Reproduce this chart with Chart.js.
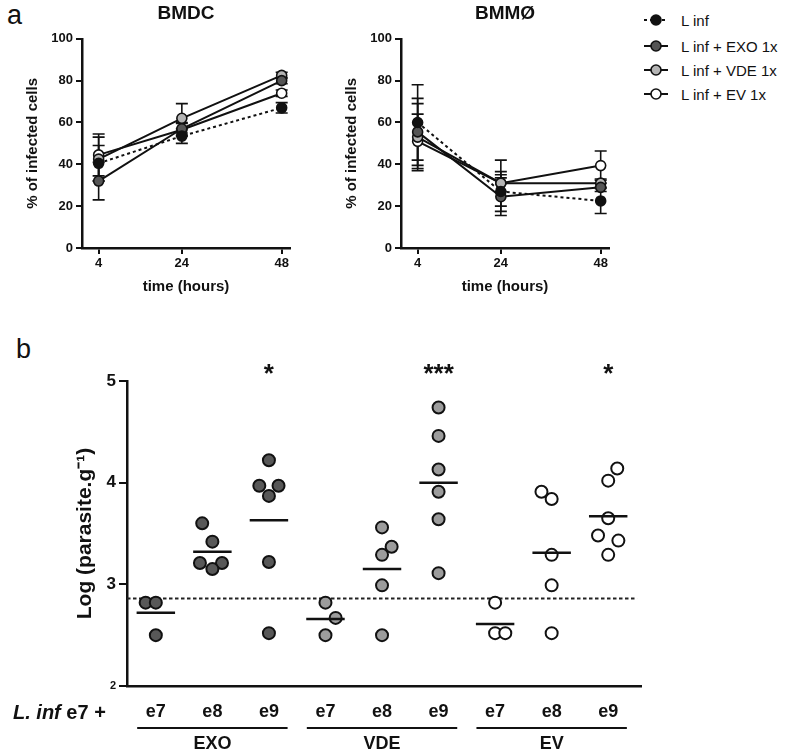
<!DOCTYPE html>
<html><head><meta charset="utf-8">
<script src="https://cdn.jsdelivr.net/npm/chart.js@4/dist/chart.umd.min.js"></script>
<style>
body{margin:0;background:#fff;width:800px;height:751px;position:relative;overflow:hidden;font-family:"Liberation Sans",Arial,Helvetica,sans-serif;color:#111;}
.abs{position:absolute;}
.leg{position:absolute;left:643px;height:20px;display:flex;align-items:center;font-size:15px;}
.leg svg{margin-right:12px;}
</style></head><body>
<div class="abs" style="left:7px;top:0px;font-size:27px;line-height:30px;">a</div>
<div class="abs" style="left:16px;top:334px;font-size:27px;line-height:30px;">b</div>
<canvas id="c1" class="abs" width="300" height="300" style="left:0;top:0"></canvas>
<canvas id="c2" class="abs" width="300" height="300" style="left:319px;top:0"></canvas>
<canvas id="c3" class="abs" width="700" height="421" style="left:0;top:330px"></canvas>
<div id="legend"></div>
<div class="abs" style="left:13px;top:700px;font-size:20px;font-weight:bold;line-height:24px;white-space:nowrap;"><i>L. inf</i> e7 +</div>
<script>
// ---------- data: panel a ----------
const hours = [4, 24, 48];
const seriesNames = ['L inf', 'L inf + EXO 1x', 'L inf + VDE 1x', 'L inf + EV 1x'];
const bmdcLinf = [40.5, 53.5, 67];
const bmdcLinfErr = [8.5, 3.5, 2.5];
const bmdcExo = [32, 57, 80];
const bmdcExoErr = [9, 3, 1.5];
const bmdcVde = [42.5, 62, 82.5];
const bmdcVdeErr = [10.5, 7, 1.5];
const bmdcEv = [44.5, 56.5, 74];
const bmdcEvErr = [10, 3, 1.5];
const bmmLinf = [60, 27, 22.5];
const bmmLinfErr = [18, 9.5, 6];
const bmmExo = [55.5, 24.5, 29];
const bmmExoErr = [16, 9, 2];
const bmmVde = [53, 31, 31];
const bmmVdeErr = [16, 11, 2];
const bmmEv = [51, 31, 39.4];
const bmmEvErr = [13, 4, 7];
const yTicksA = [0, 20, 40, 60, 80, 100];

// ---------- data: panel b ----------
const doseLabels = ['e7', 'e8', 'e9'];
const groupLabels = ['EXO', 'VDE', 'EV'];
const exoValues = [[2.82, 2.82, 2.50], [3.60, 3.42, 3.21, 3.21, 3.15], [4.22, 3.97, 3.97, 3.87, 3.22, 2.52]];
const exoJitter = [[-0.18, 0, 0], [-0.18, 0, -0.22, 0.17, 0], [0, -0.17, 0.17, 0, 0, 0]];
const vdeValues = [[2.82, 2.67, 2.50], [3.56, 3.37, 3.29, 2.99, 2.50], [4.74, 4.46, 4.13, 3.91, 3.64, 3.11]];
const vdeJitter = [[0, 0.18, 0], [0, 0.17, 0, 0, 0], [0, 0, 0, 0, 0, 0]];
const evValues = [[2.82, 2.52, 2.52], [3.91, 3.84, 3.29, 2.99, 2.52], [4.14, 4.02, 3.65, 3.48, 3.43, 3.29]];
const evJitter = [[0, 0, 0.18], [-0.18, 0, 0, 0, 0], [0.16, 0, 0, -0.18, 0.18, 0]];
const groupMeans = [2.72, 3.32, 3.63, 2.66, 3.15, 4.00, 2.61, 3.31, 3.67];
const significance = ['', '', '*', '', '', '***', '', '', '*'];
const detectionLimit = 2.86;
const yTicksB = [2, 3, 4, 5];

const INK = '#111';
Chart.defaults.font.family = "'Liberation Sans', Arial, Helvetica, sans-serif";
Chart.defaults.color = INK;

const errorBars = {
  id: 'errorBars',
  beforeDatasetsDraw(chart) {
    const {ctx, scales: {x, y}} = chart;
    ctx.save();
    ctx.strokeStyle = INK; ctx.lineWidth = 1.6;
    chart.data.datasets.forEach(ds => {
      if (!ds.errors) return;
      ds.data.forEach((p, i) => {
        const px = x.getPixelForValue(p.x);
        const lo = y.getPixelForValue(p.y - ds.errors[i]);
        const hi = y.getPixelForValue(p.y + ds.errors[i]);
        ctx.beginPath();
        ctx.moveTo(px, lo); ctx.lineTo(px, hi);
        ctx.moveTo(px - 6, lo); ctx.lineTo(px + 6, lo);
        ctx.moveTo(px - 6, hi); ctx.lineTo(px + 6, hi);
        ctx.stroke();
      });
    });
    ctx.restore();
  }
};

const fills = ['#111', '#555', '#b4b4b4', '#ffffff'];
const dashes = [[3, 3], [], [], []];

function timeChart(id, title, vals, errs) {
  return new Chart(document.getElementById(id), {
    type: 'line',
    data: {
      datasets: vals.map((v, k) => ({
        label: seriesNames[k],
        data: hours.map((h, i) => ({x: h, y: v[i]})),
        errors: errs[k],
        borderColor: INK, borderWidth: 2, borderDash: dashes[k],
        pointRadius: 5, pointBorderWidth: 1.6,
        pointBackgroundColor: fills[k], pointBorderColor: INK,
        fill: false, tension: 0
      }))
    },
    options: {
      responsive: false, animation: false, events: [],
      layout: {padding: {left: 24, right: 10, top: 0, bottom: 0}},
      plugins: {
        legend: {display: false}, tooltip: {enabled: false},
        title: {display: true, text: title, fullSize: false, color: INK,
          font: {size: 19, weight: 'bold'}, padding: {top: 2, bottom: 14}}
      },
      scales: {
        x: {
          type: 'linear', min: 0, max: 50,
          afterBuildTicks(s) { s.ticks = hours.map(v => ({value: v})); },
          ticks: {autoSkip: false, maxRotation: 0, padding: 2, color: INK,
            font: {size: 13, weight: 'bold'}},
          border: {color: INK, width: 2.5},
          grid: {drawOnChartArea: false, tickLength: 6, color: INK, lineWidth: 2},
          title: {display: true, text: 'time (hours)', color: INK,
            font: {size: 15, weight: 'bold'}, padding: {top: 0, bottom: 4}},
          afterFit(s) { s.height = 52; }
        },
        y: {
          min: 0, max: 100,
          afterBuildTicks(s) { s.ticks = yTicksA.map(v => ({value: v})); },
          ticks: {padding: 3, color: INK, font: {size: 13, weight: 'bold'}},
          border: {color: INK, width: 2.5},
          grid: {drawOnChartArea: false, tickLength: 6, color: INK, lineWidth: 2},
          title: {display: true, text: '% of infected cells', color: INK,
            font: {size: 15, weight: 'bold'}, padding: {top: 0, bottom: 0}},
          afterFit(s) { s.width = 58; }
        }
      }
    },
    plugins: [errorBars]
  });
}

timeChart('c1', 'BMDC', [bmdcLinf, bmdcExo, bmdcVde, bmdcEv], [bmdcLinfErr, bmdcExoErr, bmdcVdeErr, bmdcEvErr]);
timeChart('c2', 'BMMØ', [bmmLinf, bmmExo, bmmVde, bmmEv], [bmmLinfErr, bmmExoErr, bmmVdeErr, bmmEvErr]);

// legend
const legend = document.getElementById('legend');
const legendY = [10, 36, 60, 84];
seriesNames.forEach((name, k) => {
  const row = document.createElement('div');
  row.className = 'leg';
  row.style.top = legendY[k] + 'px';
  const dash = dashes[k].length ? 'stroke-dasharray="3 3"' : '';
  row.innerHTML = `<svg width="26" height="14"><line x1="1" y1="7" x2="25" y2="7" stroke="${INK}" stroke-width="2" ${dash}/><circle cx="13" cy="7" r="5" fill="${fills[k]}" stroke="${INK}" stroke-width="1.6"/></svg><span>${name}</span>`;
  legend.appendChild(row);
});

// ---------- panel b ----------
function pointsFor(values, jitter, groupIndex) {
  const pts = [];
  values.forEach((arr, d) => {
    const cat = groupIndex * 3 + d + 1;
    arr.forEach((v, i) => pts.push({x: cat + jitter[d][i], y: v}));
  });
  return pts;
}

const meanLines = {
  id: 'meanLines',
  afterDatasetsDraw(chart) {
    const {ctx, scales: {x, y}} = chart;
    ctx.save();
    ctx.strokeStyle = INK; ctx.lineWidth = 2.5;
    groupMeans.forEach((m, i) => {
      const c = i + 1;
      const py = y.getPixelForValue(m);
      ctx.beginPath();
      ctx.moveTo(x.getPixelForValue(c - 0.34), py);
      ctx.lineTo(x.getPixelForValue(c + 0.34), py);
      ctx.stroke();
    });
    // significance stars
    ctx.fillStyle = INK;
    ctx.font = "bold 26px 'Liberation Sans', Arial, sans-serif";
    ctx.textAlign = 'center'; ctx.textBaseline = 'alphabetic';
    significance.forEach((s, i) => {
      if (!s) return;
      ctx.fillText(s, x.getPixelForValue(i + 1), y.getPixelForValue(5) + 1);
    });
    // group underlines
    const x2 = chart.scales.x2;
    ctx.lineWidth = 2;
    groupLabels.forEach((g, k) => {
      const c = k * 3 + 2;
      const py = x2.top + 5;
      ctx.beginPath();
      ctx.moveTo(x.getPixelForValue(c - 1.33), py);
      ctx.lineTo(x.getPixelForValue(c + 1.33), py);
      ctx.stroke();
    });
    ctx.restore();
  }
};

const catTicks = [1, 2, 3, 4, 5, 6, 7, 8, 9];
new Chart(document.getElementById('c3'), {
  type: 'scatter',
  data: {
    datasets: [
      {label: 'EXO', data: pointsFor(exoValues, exoJitter, 0), pointBackgroundColor: '#585858'},
      {label: 'VDE', data: pointsFor(vdeValues, vdeJitter, 1), pointBackgroundColor: '#9c9c9c'},
      {label: 'EV', data: pointsFor(evValues, evJitter, 2), pointBackgroundColor: '#ffffff'},
      {label: 'limit', type: 'line', data: [{x: 0.49, y: detectionLimit}, {x: 9.51, y: detectionLimit}],
        borderColor: '#222', borderWidth: 2, borderDash: [3.5, 2.5], pointRadius: 0, fill: false}
    ].map(d => Object.assign({pointRadius: 6, pointBorderColor: INK, pointBorderWidth: 2}, d))
  },
  options: {
    responsive: false, animation: false, events: [],
    layout: {padding: {left: 0, right: 59, top: 51, bottom: 0}},
    plugins: {legend: {display: false}, tooltip: {enabled: false}},
    scales: {
      x: {
        type: 'linear', min: 0.49, max: 9.58, weight: 0,
        afterBuildTicks(s) { s.ticks = catTicks.map(v => ({value: v})); },
        ticks: {autoSkip: false, maxRotation: 0, padding: 15, color: INK,
          font: {size: 18, weight: 'bold'},
          callback: v => doseLabels[(v - 1) % 3]},
        border: {color: INK, width: 2.5},
        grid: {display: false, drawTicks: false},
        afterFit(s) { s.height = 37; }
      },
      x2: {
        type: 'linear', position: 'bottom', min: 0.49, max: 9.58, weight: 1,
        afterBuildTicks(s) { s.ticks = [2, 5, 8].map(v => ({value: v})); },
        ticks: {autoSkip: false, maxRotation: 0, padding: 10, color: INK,
          font: {size: 18, weight: 'bold'},
          callback: v => groupLabels[(v - 2) / 3]},
        border: {display: false},
        grid: {display: false, drawTicks: false},
        afterFit(s) { s.height = 28; }
      },
      y: {
        min: 2, max: 5,
        afterBuildTicks(s) { s.ticks = yTicksB.map(v => ({value: v})); },
        ticks: {padding: 3, color: INK,
          font: c => (c.tick && c.tick.value === 2) ? {size: 11, weight: 'bold'} : {size: 17, weight: 'bold'}},
        border: {color: INK, width: 2.5},
        grid: {drawOnChartArea: false, tickLength: 8, color: INK, lineWidth: 2},
        title: {display: true, text: 'Log (parasite.g⁻¹)', color: INK,
          font: {size: 21, weight: 'bold'}, padding: {top: 73, bottom: 0}},
        afterFit(s) { s.width = 127; }
      }
    }
  },
  plugins: [meanLines]
});
</script>
</body></html>
